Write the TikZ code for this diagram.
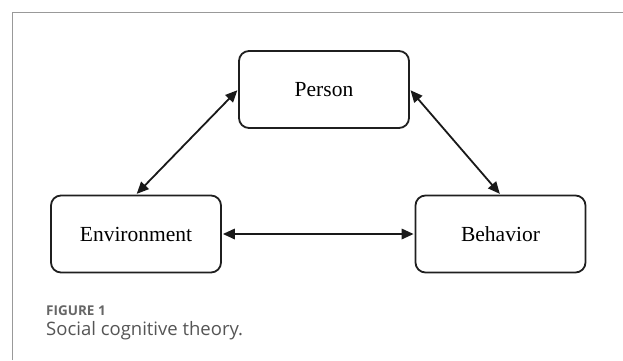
\documentclass[tikz,border=0pt]{standalone}
\usepackage{fontspec}
\setmainfont{Liberation Serif}
\newfontfamily\capfont{Open Sans}
\usetikzlibrary{arrows.meta}
\tikzset{
  % one of the three factors
  fac/.style   = {draw=black!88, line width=1.8pt, rounded corners=10pt,
                  minimum width=170pt, minimum height=77pt, inner sep=0pt,
                  font=\fontsize{21.5}{25}\selectfont},
  % a two-way influence
  tw/.style    = {{Triangle[length=12pt,width=10.5pt]}-{Triangle[length=12pt,width=10.5pt]},
                  line width=1.8pt, black!90, shorten <=1pt, shorten >=1pt},
  % the page frame
  frame/.style = {draw=black!40, line width=1pt},
  % caption lines
  capline/.style = {anchor=base west, inner sep=0pt},
}
\definecolor{capgray}{HTML}{555555}
\definecolor{figgray}{HTML}{666666}

\begin{document}
\begin{tikzpicture}[x=1pt, y=-1pt]
  \useasboundingbox (0,0) rectangle (623,360);
  \draw[frame] (12,360) -- (12,12) -- (623,12);
  \node[fac] (per) at (324.0, 89.5) {Person};
  \node[fac] (env) at (136.0,234.0) {Environment};
  \node[fac] (beh) at (500.5,234.0) {Behavior};
  % influences
  \draw[tw] (per.west) -- (env.north);
  \draw[tw] (per.east) -- (beh.north);
  \draw[tw] (env) -- (beh);
  % caption
  \node[capline, font=\capfont\bfseries\fontsize{13.5}{15}\selectfont, text=figgray]
    (fig) at (46,315) {FIGURE 1};
  \node[capline, font=\capfont\fontsize{18.5}{21}\selectfont, text=capgray]
    (txt) at (46,335) {Social cognitive theory.};
\end{tikzpicture}
\end{document}
